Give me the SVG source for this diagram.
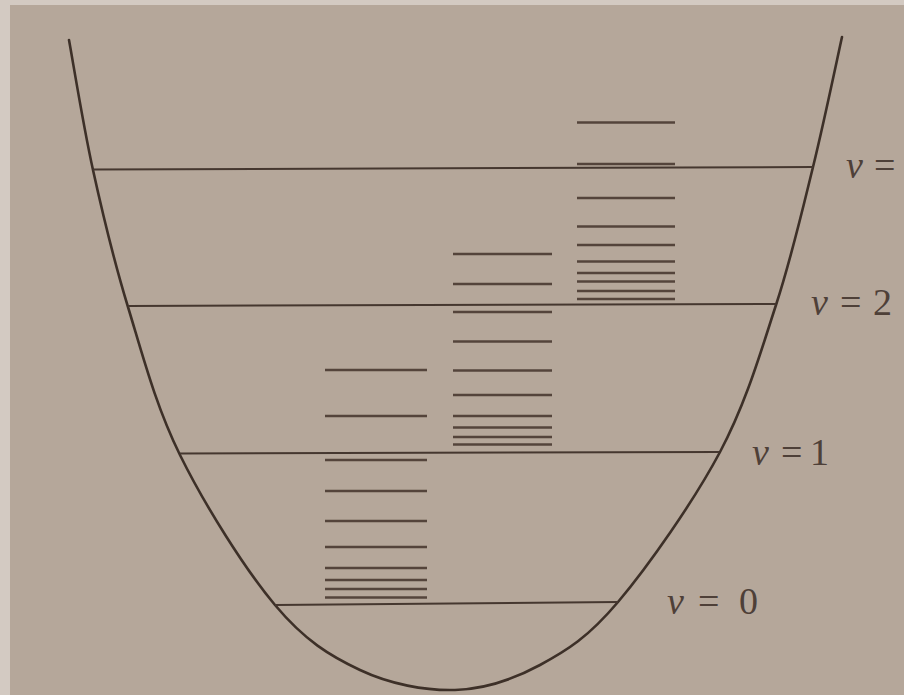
<svg xmlns="http://www.w3.org/2000/svg" width="904" height="695" viewBox="0 0 904 695">
  <style>
    .curve { fill: none; stroke: #3d3028; stroke-width: 2.6; stroke-linecap: round; }
    .vib { stroke: #45372f; stroke-width: 2; fill: none; }
    .rot { stroke: #54443b; stroke-width: 2.4; fill: none; }
    .lbl { font-family: "Liberation Serif", "Times New Roman", serif; font-size: 38px; fill: #4e4038; }
    .it { font-style: italic; }
  </style>
  <rect x="0" y="0" width="904" height="695" fill="#d3cac2"/>
  <rect x="10" y="5" width="894" height="690" fill="#b5a79a"/>

  <g id="potential">
    <path class="curve" d="M69,40 C73,61.7 83.2,125.5 93,170 C102.8,214.5 113.5,259.5 128,307 C142.5,354.5 155.5,405.3 180,455 C204.5,504.7 245,569.2 275,605 C305,640.8 330,655.8 360,670 C390,684.2 425,690.8 455,690 C485,689.2 512.8,679.7 540,665 C567.2,650.3 588,637.5 618,602 C648,566.5 693.7,501.5 720,452 C746.3,402.5 760.5,352.5 776,305 C791.5,257.5 802,211.7 813,167 C824,122.3 837.2,58.7 842,37"/>
  </g>

  <g id="vibrational-levels">
    <line id="v0" class="vib" x1="275" y1="605" x2="618" y2="602"/>
    <line id="v1" class="vib" x1="180" y1="453.5" x2="719" y2="452"/>
    <line id="v2" class="vib" x1="128" y1="306" x2="776" y2="304"/>
    <line id="v3" class="vib" x1="93" y1="169.5" x2="813" y2="167"/>
  </g>

  <g id="rotational-v0">
    <line class="rot" x1="325" y1="370" x2="427" y2="370"/>
    <line class="rot" x1="325" y1="416" x2="427" y2="416"/>
    <line class="rot" x1="325" y1="460" x2="427" y2="460"/>
    <line class="rot" x1="325" y1="491" x2="427" y2="491"/>
    <line class="rot" x1="325" y1="521" x2="427" y2="521"/>
    <line class="rot" x1="325" y1="547" x2="427" y2="547"/>
    <line class="rot" x1="325" y1="568" x2="427" y2="568"/>
    <line class="rot" x1="325" y1="580" x2="427" y2="580"/>
    <line class="rot" x1="325" y1="589" x2="427" y2="589"/>
    <line class="rot" x1="325" y1="597.5" x2="427" y2="597.5"/>
  </g>

  <g id="rotational-v1">
    <line class="rot" x1="453" y1="254" x2="552" y2="254"/>
    <line class="rot" x1="453" y1="284" x2="552" y2="284"/>
    <line class="rot" x1="453" y1="312" x2="552" y2="312"/>
    <line class="rot" x1="453" y1="341.5" x2="552" y2="341.5"/>
    <line class="rot" x1="453" y1="370.5" x2="552" y2="370.5"/>
    <line class="rot" x1="453" y1="395" x2="552" y2="395"/>
    <line class="rot" x1="453" y1="416" x2="552" y2="416"/>
    <line class="rot" x1="453" y1="427.5" x2="552" y2="427.5"/>
    <line class="rot" x1="453" y1="437" x2="552" y2="437"/>
    <line class="rot" x1="453" y1="444.5" x2="552" y2="444.5"/>
  </g>

  <g id="rotational-v2">
    <line class="rot" x1="577" y1="122.5" x2="675" y2="122.5"/>
    <line class="rot" x1="577" y1="164" x2="675" y2="164"/>
    <line class="rot" x1="577" y1="198" x2="675" y2="198"/>
    <line class="rot" x1="577" y1="226.5" x2="675" y2="226.5"/>
    <line class="rot" x1="577" y1="245" x2="675" y2="245"/>
    <line class="rot" x1="577" y1="261.5" x2="675" y2="261.5"/>
    <line class="rot" x1="577" y1="273" x2="675" y2="273"/>
    <line class="rot" x1="577" y1="281.5" x2="675" y2="281.5"/>
    <line class="rot" x1="577" y1="291" x2="675" y2="291"/>
    <line class="rot" x1="577" y1="299" x2="675" y2="299"/>
  </g>

  <g id="labels">
    <text id="label-v3" class="lbl" y="178"><tspan class="it" x="846">v</tspan><tspan x="874">=</tspan></text>
    <text id="label-v2" class="lbl" y="315"><tspan class="it" x="811">v</tspan><tspan x="840">=</tspan><tspan x="873">2</tspan></text>
    <text id="label-v1" class="lbl" y="465"><tspan class="it" x="752">v</tspan><tspan x="781">=</tspan><tspan x="810">1</tspan></text>
    <text id="label-v0" class="lbl" y="614"><tspan class="it" x="667">v</tspan><tspan x="698">=</tspan><tspan x="739">0</tspan></text>
  </g>
</svg>
